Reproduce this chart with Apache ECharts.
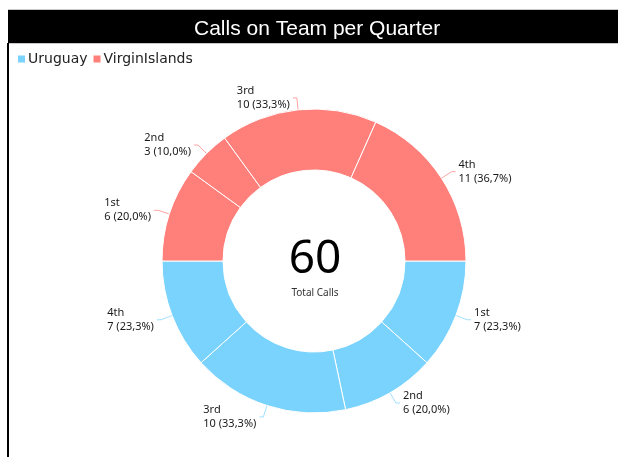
<!DOCTYPE html>
<html>
<head>
<meta charset="utf-8">
<script src="https://cdn.jsdelivr.net/npm/echarts@6/dist/echarts.min.js"></script>
<style>
html,body{margin:0;padding:0;background:#fff;}
#c{width:618px;height:457px;}
</style>
</head>
<body>
<div id="c"></div>
<script>
var titleText = 'Calls on Team per Quarter';
var quarters = ['1st', '2nd', '3rd', '4th'];
var uruguayValues = [7, 6, 10, 7];
var virginValues = [6, 3, 10, 11];
var seriesNames = ['Uruguay', 'VirginIslands'];
var seriesColors = ['#7ad3fd', '#ff7f7a'];
var centerCaption = 'Total Calls';

var total = uruguayValues.concat(virginValues).reduce(function (a, b) { return a + b; }, 0);

function toData(vals) {
  return quarters.map(function (q, i) { return { name: q, value: vals[i] }; });
}
function fmt(p) {
  return '{t|' + p.name + '}\n{t|' + p.value + ' (' + p.percent.toFixed(1).replace('.', ',') + '%)}';
}

var chart = echarts.init(document.getElementById('c'));
var common = {
  type: 'pie',
  center: [314, 261],
  radius: [91, 152],
  clockwise: true,
  avoidLabelOverlap: false,
  itemStyle: { borderColor: '#fff', borderWidth: 1 },
  label: {
    formatter: fmt,
    fontFamily: 'Noto Sans',
    fontSize: 11,
    lineHeight: 14,
    color: '#1a1a1a',
    distanceToLabelLine: 3,
    rich: { t: { fontFamily: 'Noto Sans', fontSize: 11, lineHeight: 14, color: '#1a1a1a', align: 'left' } }
  },
  labelLine: { length: 12, length2: 4, lineStyle: { width: 1, opacity: 0.7 } },
  emphasis: { scale: false }
};

chart.setOption({
  animation: false,
  title: {
    text: titleText,
    left: 189,
    top: 14,
    textStyle: { color: '#fff', fontFamily: 'Liberation Sans', fontSize: 21, fontWeight: 'normal' },
    z: 10
  },
  legend: {
    data: seriesNames,
    left: 11,
    top: 47,
    icon: 'rect',
    itemWidth: 9,
    itemHeight: 9,
    itemGap: 4,
    textStyle: { fontFamily: 'DejaVu Sans', fontSize: 14, color: '#222', padding: [0, 0, 0, -3] }
  },
  graphic: [
    { type: 'line', shape: { x1: 8, y1: 9.5, x2: 618, y2: 9.5 }, style: { stroke: '#c8c8c8', lineWidth: 1 }, z: 0 },
    { type: 'rect', shape: { x: 8, y: 10, width: 610, height: 33 }, style: { fill: '#000' }, z: 0 },
    { type: 'line', shape: { x1: 8, y1: 43.5, x2: 618, y2: 43.5 }, style: { stroke: '#c8c8c8', lineWidth: 1 }, z: 0 },
    { type: 'rect', shape: { x: 7, y: 43, width: 2, height: 414 }, style: { fill: '#000' }, z: 0 },
    { type: 'text', style: { x: 315, y: 260, text: String(total), fill: '#000', font: '46px "Noto Sans"', align: 'center', verticalAlign: 'middle' }, z: 5 },
    { type: 'text', style: { x: 315, y: 293, text: centerCaption, fill: '#333', font: '10px "Noto Sans"', align: 'center', verticalAlign: 'middle' }, z: 5 }
  ],
  series: [
    Object.assign({}, common, {
      name: seriesNames[0],
      startAngle: 0,
      endAngle: -180,
      itemStyle: { color: seriesColors[0], borderColor: '#fff', borderWidth: 1 },
      data: toData(uruguayValues)
    }),
    Object.assign({}, common, {
      name: seriesNames[1],
      startAngle: 180,
      endAngle: 0,
      itemStyle: { color: seriesColors[1], borderColor: '#fff', borderWidth: 1 },
      data: toData(virginValues)
    })
  ]
});
</script>
</body>
</html>
